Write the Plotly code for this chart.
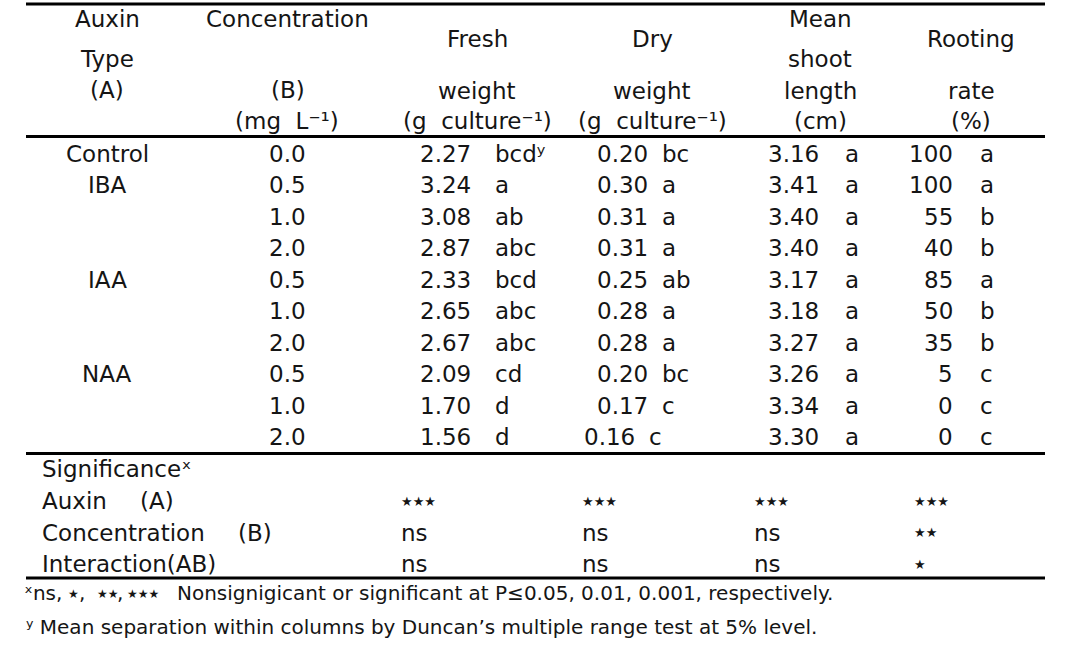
import plotly.graph_objects as go

# ---------------- data ----------------
auxin_types = ["Control", "IBA", "", "", "IAA", "", "", "NAA", "", ""]
concentrations = [0.0, 0.5, 1.0, 2.0, 0.5, 1.0, 2.0, 0.5, 1.0, 2.0]
fresh_weight = [2.27, 3.24, 3.08, 2.87, 2.33, 2.65, 2.67, 2.09, 1.70, 1.56]
fresh_letters = ["bcd", "a", "ab", "abc", "bcd", "abc", "abc", "cd", "d", "d"]
dry_weight = [0.20, 0.30, 0.31, 0.31, 0.25, 0.28, 0.28, 0.20, 0.17, 0.16]
dry_letters = ["bc", "a", "a", "a", "ab", "a", "a", "bc", "c", "c"]
shoot_length = [3.16, 3.41, 3.40, 3.40, 3.17, 3.18, 3.27, 3.26, 3.34, 3.30]
shoot_letters = ["a", "a", "a", "a", "a", "a", "a", "a", "a", "a"]
rooting_rate = [100, 100, 55, 40, 85, 50, 35, 5, 0, 0]
rooting_letters = ["a", "a", "b", "b", "a", "b", "b", "c", "c", "c"]

sig_sources = ["Auxin", "Concentration", "Interaction(AB)"]
sig_source_tags = ["(A)", "(B)", ""]
sig_fresh = ["***", "ns", "ns"]
sig_dry = ["***", "ns", "ns"]
sig_shoot = ["***", "ns", "ns"]
sig_rooting = ["***", "**", "*"]

footnote_x_symbols = ["ns", "*", "**", "***"]
footnote_x_text = "Nonsignigicant or significant at P≤0.05, 0.01, 0.001, respectively."
footnote_y = "Mean separation within columns by Duncan’s multiple range test at 5% level."

# ---------------- styling ----------------
W, H = 1067, 645
FONT = "DejaVu Sans"
FS = 23
FS_FOOT = 20
COLOR = "#151515"

annotations = []


def txt(x, y, s, anchor="center", size=FS):
    annotations.append(dict(
        x=x, y=y, xref="x", yref="y", text=s, showarrow=False,
        xanchor=anchor, yanchor="middle",
        font=dict(family=FONT, size=size, color=COLOR)))


def cell(x, y, s, star_size=13):
    # significance symbols: stars drawn as small filled stars
    if "*" in s:
        txt(x, y, s.replace("*", "★"), "left", star_size)
    else:
        txt(x, y, s, "left")


# header
txt(107, 19, "Auxin"); txt(107, 59, "Type"); txt(107, 90, "(A)")
txt(287, 19, "Concentration"); txt(288, 90, "(B)"); txt(287, 121, "(mg  L⁻¹)")
txt(477, 39, "Fresh"); txt(477, 91, "weight"); txt(477, 121, "(g  culture⁻¹)")
txt(652, 39, "Dry"); txt(652, 91, "weight"); txt(652, 121, "(g  culture⁻¹)")
txt(820, 19, "Mean"); txt(820, 59, "shoot"); txt(820, 91, "length"); txt(820, 121, "(cm)")
txt(971, 39, "Rooting"); txt(971, 91, "rate"); txt(971, 121, "(%)")

# body rows
row_y0, row_dy = 153.5, 31.55
for i in range(len(concentrations)):
    y = row_y0 + i * row_dy
    if auxin_types[i]:
        txt(107, y, auxin_types[i])
    txt(287, y, f"{concentrations[i]:.1f}")
    txt(418, y, f"{fresh_weight[i]:.2f}", "left")
    txt(493, y, fresh_letters[i] + ("ʸ" if i == 0 else ""), "left")
    dx = -13 if i == len(concentrations) - 1 else 0
    txt(595 + dx, y, f"{dry_weight[i]:.2f}", "left")
    txt(660 + dx, y, dry_letters[i], "left")
    txt(766, y, f"{shoot_length[i]:.2f}", "left")
    txt(843, y, shoot_letters[i], "left")
    txt(955, y, f"{rooting_rate[i]}", "right")
    txt(978, y, rooting_letters[i], "left")

# significance
txt(40, 469, "Significanceˣ", "left")
sig_y0, sig_dy = 501, 31.5
tag_x = [138, 236, 0]
for i in range(len(sig_sources)):
    y = sig_y0 + i * sig_dy
    txt(40, y, sig_sources[i], "left")
    if sig_source_tags[i]:
        txt(tag_x[i], y, sig_source_tags[i], "left")
    for xv, col in zip([399, 580, 752, 912], [sig_fresh, sig_dry, sig_shoot, sig_rooting]):
        cell(xv, y, col[i])

# footnotes
fy = 593
txt(22, fy, "ˣ" + footnote_x_symbols[0] + ",", "left", FS_FOOT)
sym_x = [None, 66, 95, 125]
comma_x = [None, 77, 115, None]
for k in (1, 2, 3):
    txt(sym_x[k], fy + 1, footnote_x_symbols[k].replace("*", "★"), "left", 12)
    if comma_x[k]:
        txt(comma_x[k], fy, ",", "left", FS_FOOT)
txt(175, fy, footnote_x_text, "left", FS_FOOT)
txt(24, 627, "ʸ " + footnote_y, "left", FS_FOOT)

# rules
shapes = []
for y in [4, 136.5, 453.5, 578]:
    shapes.append(dict(type="line", xref="x", yref="y", x0=26, x1=1045, y0=y, y1=y,
                       line=dict(color="black", width=3)))

fig = go.Figure()
fig.update_layout(
    width=W, height=H,
    margin=dict(l=0, r=0, t=0, b=0),
    paper_bgcolor="white", plot_bgcolor="white",
    xaxis=dict(range=[0, W], visible=False, fixedrange=True),
    yaxis=dict(range=[H, 0], visible=False, fixedrange=True),
    annotations=annotations, shapes=shapes, showlegend=False,
)
fig.write_html("out.html", config={"displayModeBar": False},
               post_script="document.body.style.margin='0px';document.body.style.overflow='hidden';")
